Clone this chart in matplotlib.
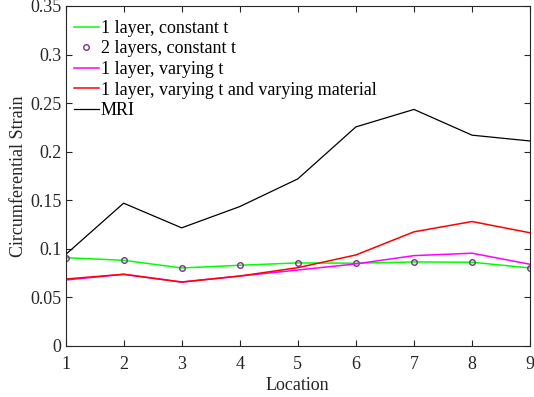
import matplotlib
matplotlib.use("Agg")
import matplotlib.pyplot as plt

plt.rcParams['font.family'] = ['Liberation Serif', 'DejaVu Serif']
plt.rcParams['mathtext.fontset'] = 'stix'

location = [1, 2, 3, 4, 5, 6, 7, 8, 9]
one_layer_const = [0.0909, 0.0882, 0.0803, 0.0831, 0.0855, 0.0852, 0.0865, 0.0862, 0.0803]
two_layers_const = [0.0909, 0.0882, 0.0803, 0.0831, 0.0855, 0.0852, 0.0865, 0.0862, 0.0803]
one_layer_vary_t = [0.0679, 0.0738, 0.0658, 0.0720, 0.0782, 0.0845, 0.0930, 0.0955, 0.0841]
one_layer_vary_t_mat = [0.0689, 0.0738, 0.0658, 0.0720, 0.0806, 0.0937, 0.1175, 0.1281, 0.1165]
mri = [0.0940, 0.1470, 0.1216, 0.1435, 0.1720, 0.2255, 0.2435, 0.2170, 0.2110]

fig = plt.figure(figsize=(5.34, 3.97), dpi=100)
ax = fig.add_axes([0.1227, 0.1285, 0.870, 0.8565])

ax.plot(location, one_layer_const, color=(0, 1, 0), lw=1.1, label='1 layer, constant t')
ax.plot(location, two_layers_const, ls='none', marker='o', ms=4, mfc='none',
        mec=(0.49, 0.18, 0.56), mew=1.0, label='2 layers, constant t')
ax.plot(location, one_layer_vary_t, color=(1, 0, 1), lw=1.1, label='1 layer, varying t')
ax.plot(location, one_layer_vary_t_mat, color=(1, 0, 0), lw=1.1, label='1 layer, varying t and varying material')
ax.plot(location, mri, color='k', lw=0.9, label='MRI')

ax.set_xlim(1, 9)
ax.set_ylim(0, 0.35)
ax.set_xticks(location)
yt = [0, 0.05, 0.1, 0.15, 0.2, 0.25, 0.3, 0.35]
ax.set_yticks(yt)
ax.set_yticklabels(['0', '0.05', '0.1', '0.15', '0.2', '0.25', '0.3', '0.35'])
ax.tick_params(direction='in', top=True, right=True, labelsize=13, colors=(0.15, 0.15, 0.15),
               length=4, width=0.8)
ax.tick_params(axis='x', pad=7)
ax.tick_params(axis='y', pad=3)
for s in ax.spines.values():
    s.set_color((0.15, 0.15, 0.15))
    s.set_linewidth(0.8)
ax.set_xlabel('Location', fontsize=13, color=(0.15, 0.15, 0.15), labelpad=3)
ax.set_ylabel('Circumferential Strain', fontsize=13, color=(0.15, 0.15, 0.15), labelpad=2)

leg = ax.legend(loc='upper left', frameon=False, fontsize=13, handlelength=1.4,
                handletextpad=0.1, labelspacing=0.2, borderaxespad=0.05,
                bbox_to_anchor=(0.0, 0.983))

fig.savefig('out.png', dpi=100)
